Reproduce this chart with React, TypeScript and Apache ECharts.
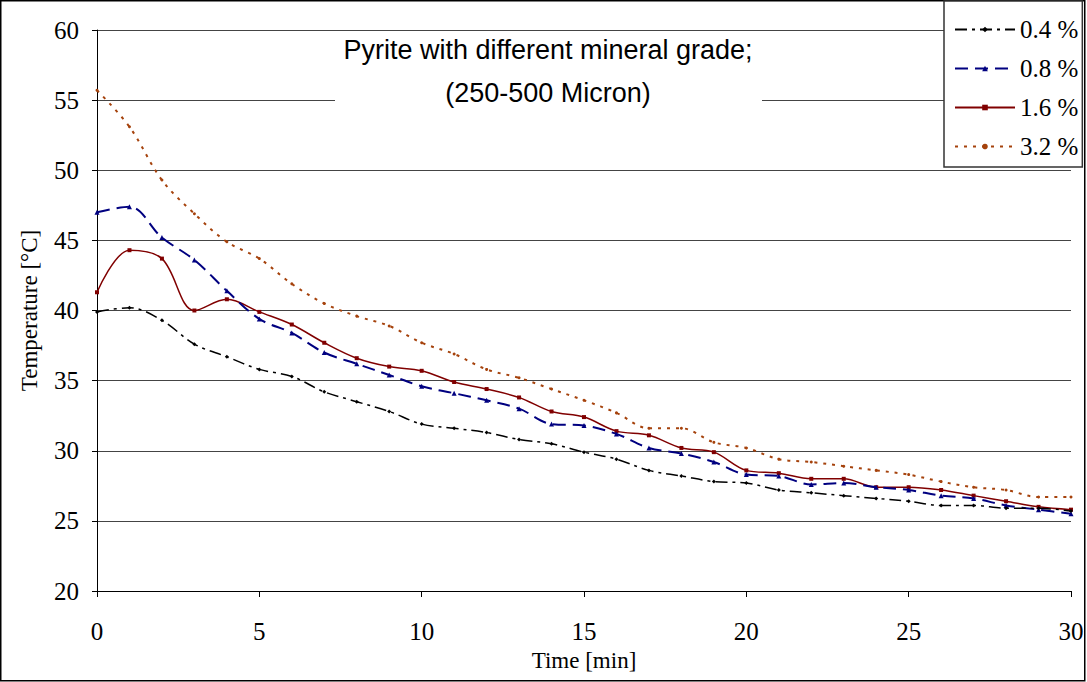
import React, { useEffect, useRef } from "react";
import * as echarts from "echarts";

const minutes = [0, 1, 2, 3, 4, 5, 6, 7, 8, 9, 10, 11, 12, 13, 14, 15, 16, 17, 18, 19, 20, 21, 22, 23, 24, 25, 26, 27, 28, 29, 30];
const grade04 = [39.9, 40.2, 39.3, 37.6, 36.7, 35.8, 35.3, 34.2, 33.5, 32.8, 31.9, 31.6, 31.3, 30.8, 30.5, 29.9, 29.4, 28.6, 28.2, 27.8, 27.7, 27.2, 27.0, 26.8, 26.6, 26.4, 26.1, 26.1, 25.9, 25.9, 25.7];
const grade08 = [47.0, 47.4, 45.2, 43.6, 41.4, 39.4, 38.4, 37.0, 36.2, 35.4, 34.6, 34.1, 33.6, 33.0, 31.9, 31.8, 31.2, 30.2, 29.8, 29.2, 28.3, 28.2, 27.6, 27.7, 27.4, 27.2, 26.8, 26.6, 26.1, 25.8, 25.5];
const grade16 = [41.3, 44.3, 43.7, 40.0, 40.8, 39.9, 39.0, 37.7, 36.6, 36.0, 35.7, 34.9, 34.4, 33.8, 32.8, 32.4, 31.4, 31.1, 30.2, 29.9, 28.6, 28.4, 28.0, 28.0, 27.4, 27.4, 27.2, 26.8, 26.4, 26.0, 25.8];
const grade32 = [55.7, 53.1, 49.3, 46.9, 44.9, 43.7, 41.9, 40.5, 39.6, 38.9, 37.7, 36.9, 35.8, 35.2, 34.4, 33.6, 32.7, 31.6, 31.6, 30.6, 30.2, 29.4, 29.2, 28.9, 28.6, 28.3, 27.8, 27.4, 27.2, 26.7, 26.7];
const seriesNames = ["0.4 %", "0.8 %", "1.6 %", "3.2 %"];
const titleLines = ["Pyrite with different mineral grade;", "(250-500 Micron)"];
const xTitle = "Time [min]";
const yTitle = "Temperature [°C]";

const SERIF = "'Liberation Serif', 'Times New Roman', serif";
const SANS = "'Liberation Sans', Arial, sans-serif";

function pairs(vals: number[]) {
  return minutes.map((m, i) => [m, vals[i]]);
}

export default function App() {
  const ref = useRef<HTMLDivElement>(null);
  useEffect(() => {
    if (!ref.current) return;
    const chart = echarts.init(ref.current, null, { renderer: "svg" });
    const styles = [
      { color: "#000000", type: [12, 5, 3, 5], width: 1.5, symbol: "diamond", size: 4 },
      { color: "#000080", type: [13, 7], width: 2, symbol: "triangle", size: 5 },
      { color: "#800000", type: "solid", width: 1.5, symbol: "rect", size: 4 },
      { color: "#A5420C", type: [3, 6], width: 2, symbol: "circle", size: 3 },
    ];
    const datas = [grade04, grade08, grade16, grade32];
    chart.setOption({
      animation: false,
      backgroundColor: "#ffffff",
      grid: { left: 97, right: 16, top: 30, bottom: 91, containLabel: false },
      xAxis: {
        type: "value",
        min: 0,
        max: 30,
        interval: 5,
        name: xTitle,
        nameLocation: "middle",
        nameGap: 57,
        nameTextStyle: { fontFamily: SERIF, fontSize: 23, color: "#000" },
        axisLine: { show: true, lineStyle: { color: "#000", width: 1 } },
        axisTick: { show: true, length: 6, lineStyle: { color: "#000" } },
        axisLabel: { fontFamily: SERIF, fontSize: 25, color: "#000", margin: 28 },
        splitLine: { show: false },
      },
      yAxis: {
        type: "value",
        min: 20,
        max: 60,
        interval: 5,
        name: yTitle,
        nameLocation: "middle",
        nameGap: 56,
        nameTextStyle: { fontFamily: SERIF, fontSize: 23, color: "#000" },
        axisLine: { show: true, lineStyle: { color: "#000", width: 1 } },
        axisTick: { show: true, length: 5, lineStyle: { color: "#000" } },
        axisLabel: { fontFamily: SERIF, fontSize: 25, color: "#000", margin: 18 },
        splitLine: { show: true, lineStyle: { color: "#444", width: 1 } },
      },
      legend: {
        orient: "vertical",
        left: 944,
        top: 1,
        width: 140,
        itemWidth: 60,
        itemHeight: 7,
        itemGap: 14,
        padding: [16, 4, 8, 10],
        borderColor: "#333",
        borderWidth: 1.5,
        backgroundColor: "#fff",
        textStyle: { fontFamily: SERIF, fontSize: 25, color: "#000" },
        data: seriesNames,
      },
      graphic: [
        {
          type: "rect",
          shape: { x: 0.75, y: 0.75, width: 1084, height: 680 },
          style: { fill: "none", stroke: "#000", lineWidth: 1.5 },
          z: 0,
        },
        {
          type: "rect",
          shape: { x: 335, y: 33, width: 427, height: 76 },
          style: { fill: "#fff" },
          z: 50,
        },
        {
          type: "text",
          x: 548,
          y: 50,
          z: 51,
          style: {
            text: titleLines[0],
            align: "center",
            verticalAlign: "middle",
            fontFamily: SANS,
            fontSize: 27,
            fill: "#000",
          },
        },
        {
          type: "text",
          x: 548,
          y: 93,
          z: 51,
          style: {
            text: titleLines[1],
            align: "center",
            verticalAlign: "middle",
            fontFamily: SANS,
            fontSize: 27,
            fill: "#000",
          },
        },
      ],
      series: datas.map((d, i) => ({
        name: seriesNames[i],
        type: "line",
        data: pairs(d),
        smooth: 0.35,
        symbol: styles[i].symbol,
        symbolSize: styles[i].size,
        showSymbol: true,
        itemStyle: { color: styles[i].color },
        lineStyle: { color: styles[i].color, type: styles[i].type, width: styles[i].width },
        z: 10 - i,
      })),
    });
    return () => chart.dispose();
  }, []);
  return (
    <div
      ref={ref}
      style={{ position: "absolute", left: 0, top: 0, width: 1087, height: 682 }}
    />
  );
}
